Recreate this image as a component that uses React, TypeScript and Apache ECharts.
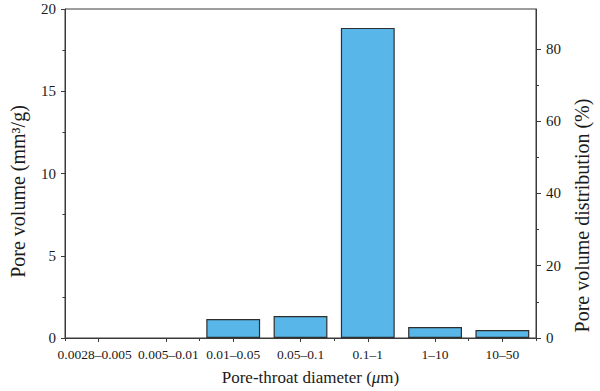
import React, { useEffect, useRef } from "react";
import * as echarts from "echarts";

const categories = ["0.0028–0.005", "0.005–0.01", "0.01–0.05", "0.05–0.1", "0.1–1", "1–10", "10–50"];
const poreVolume = [0, 0, 1.15, 1.33, 18.85, 0.67, 0.48];
const leftTicks = [0, 5, 10, 15, 20];
const rightTicks = [0, 20, 40, 60, 80];
const rightMinorTicks = [10, 30, 50, 70];

const FONT = "'Liberation Serif', 'DejaVu Serif', serif";
const AXIS = "#3a3a3a";
const TEXT = "#1a1a1a";

// small nudges so the two long labels on the left do not touch
const labelPadding: Record<number, number[]> = { 0: [0, 8, 0, 0], 1: [0, 0, 0, 5] };

export default function App() {
  const ref = useRef<HTMLDivElement>(null);
  useEffect(() => {
    if (!ref.current) return;
    const chart = echarts.init(ref.current, undefined, { renderer: "svg" });
    const catData = categories.map((c, i) =>
      labelPadding[i] ? { value: c, textStyle: { padding: labelPadding[i] } } : c
    );
    chart.setOption({
      animation: false,
      textStyle: { fontFamily: FONT, color: TEXT },
      grid: {
        left: 63,
        right: 57,
        top: 9,
        bottom: 51,
        show: true,
        borderColor: AXIS,
        borderWidth: 1,
        backgroundColor: "transparent",
      },
      xAxis: [
        {
          type: "category",
          data: catData,
          position: "bottom",
          axisLine: { show: true, lineStyle: { color: AXIS, width: 1 } },
          axisTick: { show: true, alignWithLabel: true, length: 4, lineStyle: { color: AXIS } },
          axisLabel: {
            interval: 0,
            hideOverlap: false,
            fontFamily: FONT,
            fontSize: 13.5,
            color: TEXT,
            margin: 9,
          },
          name: "Pore-throat diameter ({i|μ}m)",
          nameLocation: "middle",
          nameGap: 31,
          nameTextStyle: {
            fontFamily: FONT,
            fontSize: 17,
            color: TEXT,
            padding: [0, 0, 0, 20],
            rich: { i: { fontFamily: FONT, fontSize: 17, fontStyle: "italic", color: TEXT } },
          },
          splitLine: { show: false },
        },
        {
          type: "category",
          data: categories,
          position: "bottom",
          axisLine: { show: false },
          axisTick: { show: true, alignWithLabel: false, length: 3, lineStyle: { color: AXIS } },
          axisLabel: { show: false },
          splitLine: { show: false },
        },
      ],
      yAxis: [
        {
          type: "value",
          position: "left",
          min: 0,
          max: 20,
          interval: 5,
          axisLine: { show: true, lineStyle: { color: AXIS, width: 1 } },
          axisTick: { show: true, length: 4, lineStyle: { color: AXIS } },
          minorTick: { show: true, splitNumber: 2, length: 2.5, lineStyle: { color: AXIS } },
          axisLabel: {
            fontFamily: FONT,
            fontSize: 15,
            color: TEXT,
            margin: 9,
            formatter: (v: number) => (leftTicks.includes(v) ? String(v) : ""),
          },
          splitLine: { show: false },
          name: "Pore volume (mm³/g)",
          nameLocation: "middle",
          nameGap: 37,
          nameRotate: 90,
          nameTextStyle: { fontFamily: FONT, fontSize: 20, color: TEXT, padding: [0, 36, 0, 0] },
        },
        {
          type: "value",
          position: "right",
          min: 0,
          max: 91,
          axisLine: { show: true, lineStyle: { color: AXIS, width: 1 } },
          axisTick: { show: true, length: 5, customValues: rightTicks, lineStyle: { color: AXIS } },
          axisLabel: {
            fontFamily: FONT,
            fontSize: 15,
            color: TEXT,
            margin: 10,
            customValues: rightTicks,
          },
          splitLine: { show: false },
          name: "Pore volume distribution (%)",
          nameLocation: "middle",
          nameGap: 36,
          nameRotate: 90,
          nameTextStyle: { fontFamily: FONT, fontSize: 20, color: TEXT, padding: [0, 84, 0, 0] },
        },
        {
          type: "value",
          position: "right",
          min: 0,
          max: 91,
          axisLine: { show: false },
          axisTick: { show: true, length: 3, customValues: rightMinorTicks, lineStyle: { color: AXIS } },
          axisLabel: { show: false },
          splitLine: { show: false },
        },
      ],
      series: [
        {
          type: "bar",
          xAxisIndex: 0,
          yAxisIndex: 0,
          data: poreVolume.map((v) => (v === 0 ? "-" : v)),
          barWidth: "80%",
          itemStyle: { color: "#58B7E8", borderColor: "#2e2e2e", borderWidth: 1.2 },
        },
      ],
    });
    return () => chart.dispose();
  }, []);
  return (
    <div
      ref={ref}
      style={{ position: "fixed", left: 0, top: 0, width: 600, height: 391, background: "#fff" }}
    />
  );
}
